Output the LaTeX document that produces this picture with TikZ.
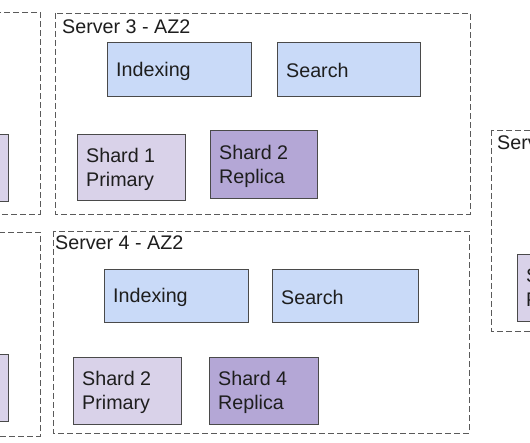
\documentclass[tikz,border=0pt]{standalone}
\usepackage{fontspec}
\setmainfont{Liberation Sans}
\definecolor{boxblue}{HTML}{C9DAF8}
\definecolor{purplelight}{HTML}{D9D2E9}
\definecolor{purpledark}{HTML}{B4A7D6}
\definecolor{edgegray}{HTML}{4A4A4A}
\definecolor{dashgray}{HTML}{5A5A5A}
\definecolor{txt}{HTML}{1E1E1E}
\tikzset{
  comp/.style={draw=edgegray, line width=0.9pt, anchor=north west, inner sep=0pt},
  idx/.style={comp, fill=boxblue},
  prim/.style={comp, fill=purplelight},
  repl/.style={comp, fill=purpledark},
  label text/.style={anchor=west, inner sep=0pt, align=left, text=txt, font=\fontsize{19.7}{24}\selectfont},
  server/.style={draw=dashgray, line width=0.9pt, dash pattern=on 6pt off 3pt},
  title/.style={anchor=base west, inner sep=0pt, text=txt, font=\fontsize{19.7}{24}\selectfont},
}
% style, name, x, y, w, h, text
\newcommand{\compbox}[7]{%
  \node[#1, minimum width=#5pt, minimum height=#6pt] (#2) at (#3,#4) {};
  \node[label text] (#2-t) at ([xshift=9pt,yshift=-1.5pt]#2.west) {#7};}
\begin{document}
\begin{tikzpicture}[x=1pt, y=-1pt]
\useasboundingbox (0,0) rectangle (530,443);
\clip (0,0) rectangle (530,443);
\fill[white] (0,0) rectangle (530,443);

% left cut-off servers
\draw[server] (-300,12) rectangle (40,214);
\draw[server] (-300,232) rectangle (40,436);
\node[prim, minimum width=108pt, minimum height=67pt] (lp1) at (-100,134) {};
\node[prim, minimum width=108pt, minimum height=67pt] (lp2) at (-100,354) {};

% Server 3
\draw[server] (55,13) rectangle (470,214);
\node[title] (t3) at (62,34) {Server 3 - AZ2};
\compbox{idx}{s3idx}{107}{42}{144}{54}{Indexing}
\compbox{idx}{s3srch}{277}{42}{143}{54}{Search}
\compbox{prim}{s3sh1}{77}{134}{108}{66}{Shard 1\\Primary}
\compbox{repl}{s3sh2}{210}{130}{107}{68}{Shard 2\\Replica}

% Server 4
\draw[server] (53,231) rectangle (469,433);
\node[title] (t4) at (55,250) {Server 4 - AZ2};
\compbox{idx}{s4idx}{104}{269}{144}{53}{Indexing}
\compbox{idx}{s4srch}{272}{269}{146}{53}{Search}
\compbox{prim}{s4sh2}{73}{357}{108}{67}{Shard 2\\Primary}
\compbox{repl}{s4sh4}{209}{357}{109}{67}{Shard 4\\Replica}

% right cut-off server
\draw[server] (491,130) rectangle (800,331);
\node[title] (t5) at (497,150) {Server};
\compbox{prim}{rp}{517}{254}{108}{67}{Shard\\Primary}
\end{tikzpicture}
\end{document}
